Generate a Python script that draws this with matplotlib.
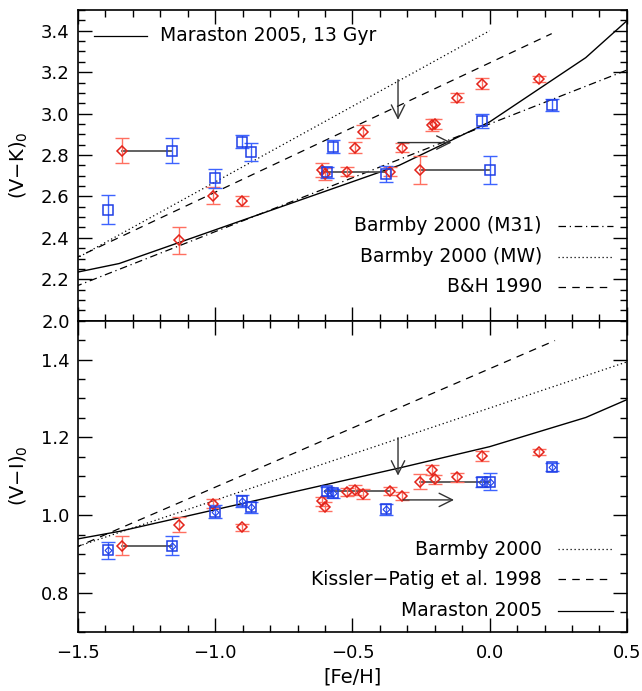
import numpy as np
import matplotlib
matplotlib.use("Agg")
import matplotlib.pyplot as plt
from matplotlib.ticker import MultipleLocator

# ---- data ----
# red diamonds
fe_red = [-1.341, -1.131, -1.009, -0.901, -0.610, -0.601, -0.521, -0.491, -0.461,
          -0.363, -0.321, -0.254, -0.212, -0.199, -0.120, -0.029, 0.179]
vk_red = [2.820, 2.388, 2.604, 2.577, 2.728, 2.708, 2.719, 2.836, 2.913,
          2.719, 2.836, 2.728, 2.945, 2.951, 3.076, 3.144, 3.168]
vk_red_err = [0.06, 0.064, 0.042, 0.025, 0.032, 0.03, 0.022, 0.026, 0.032,
              0.022, 0.022, 0.068, 0.028, 0.025, 0.022, 0.026, 0.014]
vi_red = [0.921, 0.975, 1.029, 0.969, 1.035, 1.022, 1.059, 1.065, 1.054,
          1.061, 1.049, 1.086, 1.116, 1.092, 1.097, 1.152, 1.162]
vi_red_err = [0.024, 0.019, 0.012, 0.009, 0.012, 0.012, 0.010, 0.013, 0.013,
              0.010, 0.010, 0.020, 0.013, 0.012, 0.012, 0.014, 0.008]

# blue squares
fe_blue = [-1.390, -1.159, -1.001, -0.901, -0.871, -0.594, -0.570, -0.379, -0.029, 0.001, 0.226]
vk_blue = [2.535, 2.820, 2.687, 2.865, 2.815, 2.716, 2.841, 2.708, 2.964, 2.728, 3.041]
vk_blue_err = [0.07, 0.06, 0.046, 0.03, 0.045, 0.025, 0.03, 0.037, 0.032, 0.068, 0.028]
vi_blue = [0.909, 0.921, 1.009, 1.037, 1.020, 1.061, 1.056, 1.015, 1.086, 1.086, 1.123]
vi_blue_err = [0.023, 0.024, 0.017, 0.015, 0.014, 0.011, 0.011, 0.014, 0.013, 0.021, 0.010]

# horizontal connectors (x1, x2, y)
links_vk = [(-1.341, -1.159, 2.820), (-0.610, -0.379, 2.716), (-0.254, 0.001, 2.728)]
links_vi = [(-1.341, -1.159, 0.921), (-0.600, -0.363, 1.061), (-0.254, 0.001, 1.086)]

# model relations
mar_fe = [-2.25, -1.35, -0.33, 0.0, 0.35, 0.67]
mar_vk = [2.03, 2.276, 2.75, 2.96, 3.27, 3.65]
mar_vi = [0.843, 0.958, 1.121, 1.176, 1.251, 1.349]

b00_m31_fe = [-2.0, 0.5]
b00_m31_vk = [1.91, 3.21]
b00_mw_fe = [-2.0, 0.0]
b00_mw_vk = [1.94, 3.40]
bh90_fe = [-2.0, 0.226]
bh90_vk = [1.996, 3.386]

b00_fe = [-2.0, 0.5]
b00_vi = [0.801, 1.394]
kp98_fe = [-2.0, 0.238]
kp98_vi = [0.767, 1.449]

# arrows ((x_from, y_from), (x_to, y_to))
arrows_vk = [((-0.334, 3.164), (-0.334, 2.97)), ((-0.334, 2.86), (-0.139, 2.86))]
arrows_vi = [((-0.334, 1.199), (-0.334, 1.1015)), ((-0.315, 1.039), (-0.130, 1.039))]

red = '#e2231a'
red_err = '#ff6f60'
blue = '#1f3ee6'
blue_err = '#3d63ff'

plt.rcParams['font.family'] = 'DejaVu Sans'

fig = plt.figure(figsize=(6.42, 6.91), dpi=100)
ax1 = fig.add_axes([0.1215, 0.5359, 0.855, 0.4496])
ax2 = fig.add_axes([0.1215, 0.0858, 0.855, 0.4501])


def draw_points(ax, yr, yr_err, yb, yb_err, links, inner=False):
    for x1, x2, y in links:
        ax.plot([x1, x2], [y, y], color='#555555', lw=1.3, zorder=2)
    ax.errorbar(fe_red, yr, yerr=yr_err, fmt='none', ecolor=red_err,
                elinewidth=1.0, capsize=5, capthick=1.0, zorder=3)
    ax.plot(fe_red, yr, 'D', ms=5.5, mfc='none', mec=red, mew=1.1, zorder=4)
    ax.errorbar(fe_blue, yb, yerr=yb_err, fmt='none', ecolor=blue_err,
                elinewidth=1.0, capsize=5, capthick=1.0, zorder=3)
    ax.plot(fe_blue, yb, 's', ms=7, mfc='none', mec=blue, mew=1.1, zorder=4)
    if inner:
        ax.plot(fe_blue, yb, 'D', ms=3.5, mfc='none', mec=blue, mew=0.8, zorder=4)


def draw_arrows(ax, arrows):
    for start, end in arrows:
        ax.annotate('', xy=end, xytext=start,
                    arrowprops=dict(arrowstyle='->,head_length=0.8,head_width=0.4',
                                    mutation_scale=12, lw=1.0, color='#333333',
                                    shrinkA=0, shrinkB=0), zorder=5)


def legend_row(ax, y, text, ls):
    ax.text(0.845, y, text, transform=ax.transAxes, ha='right', va='center', fontsize=13.5)
    ax.plot([0.875, 0.975], [y, y], transform=ax.transAxes, color='black', lw=0.9, ls=ls)


# ---- top panel: V-K ----
ax1.plot(mar_fe, mar_vk, color='black', lw=1.0)
ax1.plot(b00_m31_fe, b00_m31_vk, color='black', lw=0.9, ls=(0, (6, 3, 1, 3)))
ax1.plot(b00_mw_fe, b00_mw_vk, color='black', lw=0.9, ls=(0, (1, 2.2)))
ax1.plot(bh90_fe, bh90_vk, color='black', lw=0.9, ls=(0, (6, 5)))
draw_points(ax1, vk_red, vk_red_err, vk_blue, vk_blue_err, links_vk)
draw_arrows(ax1, arrows_vk)

ax1.plot([0.03, 0.125], [0.917, 0.917], transform=ax1.transAxes, color='black', lw=0.9)
ax1.text(0.15, 0.917, 'Maraston 2005, 13 Gyr', transform=ax1.transAxes,
         ha='left', va='center', fontsize=13.5)
legend_row(ax1, 0.305, 'Barmby 2000 (M31)', (0, (6, 3, 1, 3)))
legend_row(ax1, 0.206, 'Barmby 2000 (MW)', (0, (1, 2.2)))
legend_row(ax1, 0.110, 'B&H 1990', (0, (6, 5)))

ax1.set_ylim(2.0, 3.5)
ax1.set_ylabel('(V−K)$_0$', fontsize=14, labelpad=8)
ax1.tick_params(labelbottom=False)

# ---- bottom panel: V-I ----
ax2.plot(mar_fe, mar_vi, color='black', lw=1.0)
ax2.plot(b00_fe, b00_vi, color='black', lw=0.9, ls=(0, (1, 2.2)))
ax2.plot(kp98_fe, kp98_vi, color='black', lw=0.9, ls=(0, (6, 5)))
draw_points(ax2, vi_red, vi_red_err, vi_blue, vi_blue_err, links_vi, inner=True)
draw_arrows(ax2, arrows_vi)

legend_row(ax2, 0.265, 'Barmby 2000', (0, (1, 2.2)))
legend_row(ax2, 0.168, 'Kissler−Patig et al. 1998', (0, (6, 5)))
legend_row(ax2, 0.068, 'Maraston 2005', '-')

ax2.set_ylim(0.7, 1.5)
ax2.set_xlabel('[Fe/H]', fontsize=14)
ax2.set_ylabel('(V−I)$_0$', fontsize=14, labelpad=8)

for ax in (ax1, ax2):
    ax.set_xlim(-1.5, 0.5)
    ax.xaxis.set_major_locator(MultipleLocator(0.5))
    ax.xaxis.set_minor_locator(MultipleLocator(0.1))
    ax.yaxis.set_major_locator(MultipleLocator(0.2))
    ax.yaxis.set_minor_locator(MultipleLocator(0.05))
    ax.tick_params(which='both', direction='in', top=True, right=True, labelsize=13)
    ax.tick_params(which='major', length=10, width=1.0)
    ax.tick_params(which='minor', length=5, width=1.0)
    ax.tick_params(axis='y', pad=6)
    ax.tick_params(axis='x', pad=9)
    for s in ax.spines.values():
        s.set_linewidth(1.2)

fig.savefig('out.png', dpi=100)
